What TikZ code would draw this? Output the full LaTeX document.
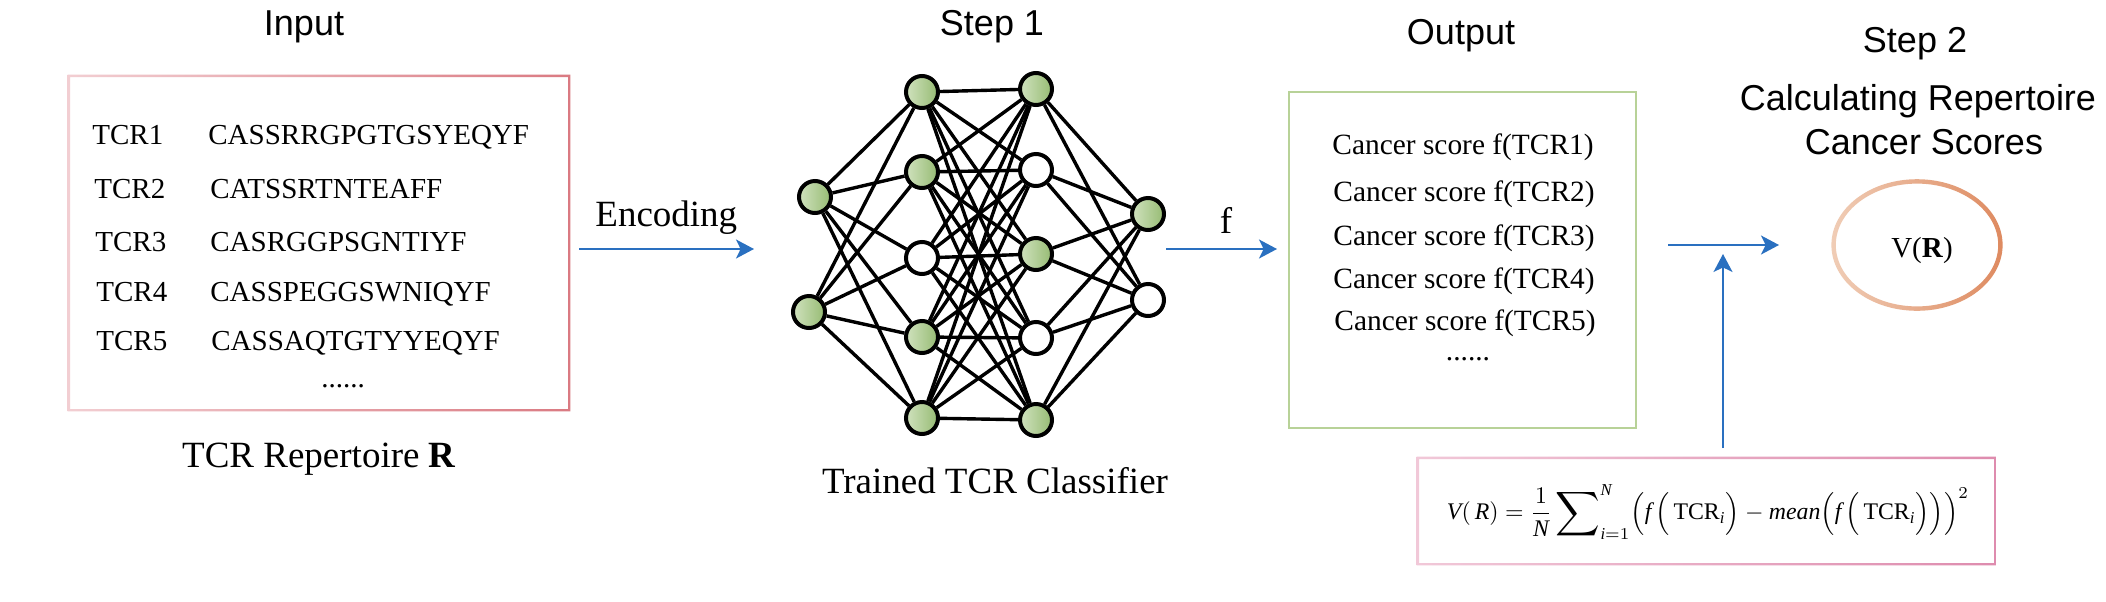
\documentclass[tikz,border=0pt]{standalone}
\usepackage{amsmath}
\usepackage{graphicx}
\usepackage{fontspec}
\setmainfont{Liberation Serif}
\newfontfamily\sansttl{Liberation Sans}
\usetikzlibrary{arrows.meta,fit}
\definecolor{arrblue}{RGB}{42,112,192}
\definecolor{inL}{RGB}{242,206,210}
\definecolor{inR}{RGB}{218,122,130}
\definecolor{outG}{RGB}{184,210,152}
\definecolor{elL}{RGB}{240,205,182}
\definecolor{elR}{RGB}{222,138,96}
\definecolor{fmL}{RGB}{241,200,216}
\definecolor{fmR}{RGB}{222,140,174}
\definecolor{gL}{RGB}{208,226,190}
\definecolor{gR}{RGB}{150,187,115}
\newcommand{\bigsum}{\mathop{\vcenter{\hbox{\scalebox{1.3}{$\displaystyle\sum$}}}}\nolimits}
\begin{document}
\begin{tikzpicture}[x=0.5pt,y=-0.5pt,
  ttl/.style={font=\sansttl\fontsize{18}{21}\selectfont, anchor=base, inner sep=0pt},
  big/.style={font=\fontsize{18.5}{22}\selectfont, inner sep=0pt},
  row/.style={font=\fontsize{14.5}{17}\selectfont, anchor=base west, inner sep=0pt},
  row2/.style={font=\fontsize{14.7}{17}\selectfont, anchor=base west, inner sep=0pt},
  neuron/.style={circle, draw=black, line width=2pt, minimum size=16pt, inner sep=0pt},
  gn/.style={neuron, left color=gL, right color=gR},
  wn/.style={neuron, fill=white},
  edge/.style={line width=1.7pt},
  arr/.style={draw=arrblue, line width=0.9pt, -{Stealth[length=9pt,width=9.5pt,inset=2.3pt]}},
  region/.style={inner sep=0pt, draw=none}
]
\fill[white] (0,0) rectangle (2106,601);
\path[use as bounding box] (0,0) rectangle (2106,601);

% titles
\node[ttl] (tin) at (304,35) {Input};
\node[ttl] (ts1) at (992,35) {Step 1};
\node[ttl] (tout) at (1461,44) {Output};
\node[ttl] (ts2) at (1915,52) {Step 2};
\node[ttl] (tcalc) at (1918,110) {Calculating Repertoire};
\node[ttl] (tcs) at (1924,154) {Cancer Scores};

% input box
\node[region, fit={(68,75) (570,411)}] (inbox) {};
\shade[left color=inL, right color=inR, even odd rule]
  (inbox.north west) rectangle (inbox.south east)
  ([shift={(1.2pt,-1.2pt)}]inbox.north west) rectangle ([shift={(-1.2pt,1.2pt)}]inbox.south east);
\node[row] (l1) at (92,144) {TCR1};  \node[row] (s1) at (208,144) {CASSRRGPGTGSYEQYF};
\node[row] (l2) at (94,198) {TCR2};  \node[row] (s2) at (210,198) {CATSSRTNTEAFF};
\node[row] (l3) at (95,251) {TCR3};  \node[row] (s3) at (210,251) {CASRGGPSGNTIYF};
\node[row] (l4) at (96,301) {TCR4};  \node[row] (s4) at (210,301) {CASSPEGGSWNIQYF};
\node[row] (l5) at (96,350) {TCR5};  \node[row] (s5) at (211,350) {CASSAQTGTYYEQYF};
\node[row, anchor=base] (d1) at (343,387) {......};
\node[big, anchor=base] (rep) at (319,467) {TCR Repertoire \textbf{R}};

% encoding arrow
\node[big, anchor=base west] (enc) at (595,226) {Encoding};
\coordinate (encA) at (579,249);
\coordinate (encB) at (754,249);
\draw[arr] (encA) -- (encB);

% network
\node[gn] (i1) at (815,197) {};
\node[gn] (i2) at (809,312) {};
\node[gn] (h1) at (922,92) {};
\node[gn] (h2) at (922,172) {};
\node[wn] (h3) at (922,258) {};
\node[gn] (h4) at (922,337) {};
\node[gn] (h5) at (922,418) {};
\node[gn] (k1) at (1036,89) {};
\node[wn] (k2) at (1036,170) {};
\node[gn] (k3) at (1036,254) {};
\node[wn] (k4) at (1036,338) {};
\node[gn] (k5) at (1036,420) {};
\node[gn] (o1) at (1148,214) {};
\node[wn] (o2) at (1148,300) {};
\foreach \a in {1,2}{\foreach \b in {1,...,5}{\draw[edge] (i\a) -- (h\b);}}
\foreach \a in {1,...,5}{\foreach \b in {1,...,5}{\draw[edge] (h\a) -- (k\b);}}
\foreach \a in {1,...,5}{\foreach \b in {1,2}{\draw[edge] (k\a) -- (o\b);}}
\node[big, anchor=base] (clf) at (995,493) {Trained TCR Classifier};

% f arrow
\node[big, anchor=base] (flab) at (1226,233) {f};
\coordinate (fA) at (1166,249);
\coordinate (fB) at (1277,249);
\draw[arr] (fA) -- (fB);

% output box
\node[region, fit={(1289,92) (1636,428)}] (outbox) {};
\draw[outG, line width=1pt] (outbox.north west) rectangle (outbox.south east);
\node[row2] (c1) at (1332,154) {Cancer score f(TCR1)};
\node[row2] (c2) at (1333,201) {Cancer score f(TCR2)};
\node[row2] (c3) at (1333,245) {Cancer score f(TCR3)};
\node[row2] (c4) at (1333,288) {Cancer score f(TCR4)};
\node[row2] (c5) at (1334,330) {Cancer score f(TCR5)};
\node[row2, anchor=base] (d2) at (1468,360) {......};

% step 2 arrows
\coordinate (sA) at (1668,245);
\coordinate (sB) at (1779,245);
\draw[arr] (sA) -- (sB);
\coordinate (vA) at (1723,448);
\coordinate (vB) at (1723,254);
\draw[arr] (vA) -- (vB);

% ellipse V(R)
\coordinate (vc) at (1917,245);
\shade[left color=elL, right color=elR, even odd rule]
  (vc) ellipse [x radius=42.8pt, y radius=32.9pt]
  (vc) ellipse [x radius=40.6pt, y radius=30.7pt];
\node[row, anchor=base] (vr) at (1922,257) {V(\textbf{R})};

% formula box
\node[region, fit={(1417,457) (1996,565)}] (fbox) {};
\shade[left color=fmL, right color=fmR, even odd rule]
  (fbox.north west) rectangle (fbox.south east)
  ([shift={(1.2pt,-1.2pt)}]fbox.north west) rectangle ([shift={(-1.2pt,1.2pt)}]fbox.south east);
\node[inner sep=0pt] (form) at (1708,512)
  {\resizebox{261pt}{!}{$\mathit{V}(\,\mathit{R}) = \dfrac{1}{\mathit{N}}\bigsum_{\mathit{i}=1}^{\mathit{N}}\!\Big(\mathit{f}\,\Big(\,\mathrm{TCR}_{\mathit{i}}\Big) - \mathit{mean}\Big(\mathit{f}\,\Big(\,\mathrm{TCR}_{\mathit{i}}\Big)\Big)\Big)^{2}$}};
\end{tikzpicture}
\end{document}
